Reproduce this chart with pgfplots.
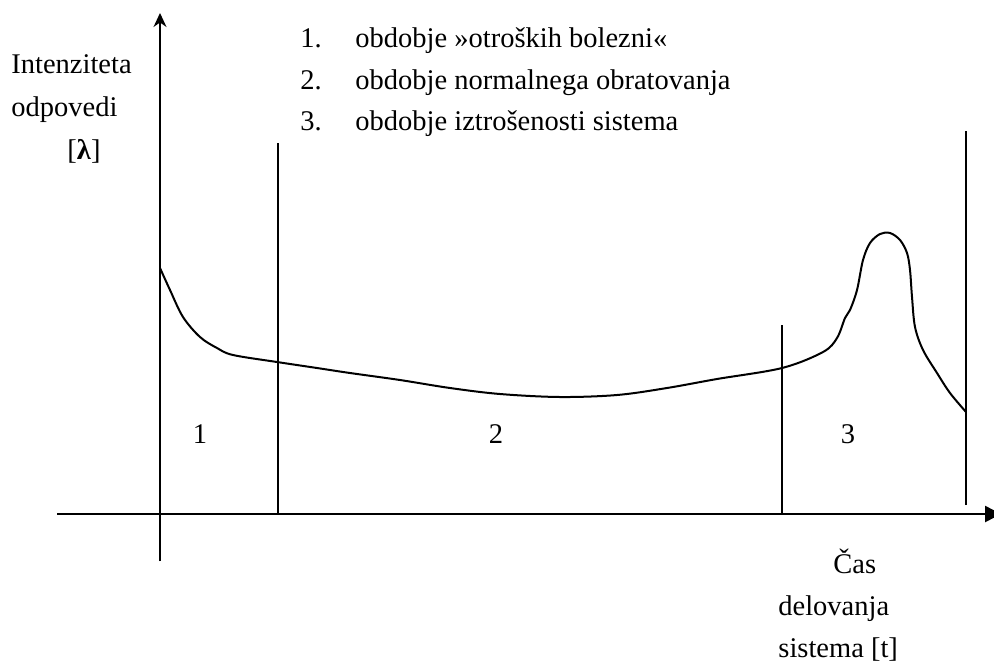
\documentclass[border=0pt]{standalone}
\usepackage{fontspec}
\setmainfont{Liberation Serif}
\usepackage{pgfplots}
\pgfplotsset{compat=1.18}
\usetikzlibrary{arrows.meta}

\tikzset{lbl/.style={font=\fontsize{14.25pt}{17pt}\selectfont\rmfamily, inner sep=0pt}}

\begin{document}
\begin{tikzpicture}
\useasboundingbox (0,0) rectangle (497pt,330.5pt);
\begin{axis}[
  x=0.5pt, y=0.5pt,
  xmin=0, xmax=994, ymin=0, ymax=661,
  hide axis, clip=false,
]
% time axis
\addplot[black, line width=1.3pt, -{Triangle[length=8pt,width=8pt]}]
  coordinates {(57,147) (1001,147)};
% failure-rate axis
\addplot[black, line width=0.75pt, -{Stealth[length=7pt,width=6.5pt]}]
  coordinates {(160,100) (160,648)};
% period boundaries
\addplot[black, line width=1.4pt] coordinates {(160,100) (160,452)};
\addplot[black, line width=1pt] coordinates {(278,147) (278,518)};
\addplot[black, line width=1pt] coordinates {(782,147) (782,336)};
\addplot[black, line width=1.1pt] coordinates {(966,156) (966,530)};
% bathtub curve
\addplot[black, line width=1pt, smooth, tension=0.55] coordinates {
  (160,393) (170,371) (183,344) (200,324) (217,313) (233,306)
  (277,299) (317,293) (350,288) (400,281) (450,273) (500,267)
  (560,264) (617,266) (667,273) (717,282) (782,293) (823,309)
  (837,323) (845,343) (850,351) (857,371) (863,401) (870,418)
  (880,427) (890,428) (900,421) (907,408) (910,391) (912,364)
  (915,334) (923,311) (937,288) (950,268) (966,249)
};

% axis titles
\node[lbl, anchor=base west] at (axis cs:11,588) {Intenziteta};
\node[lbl, anchor=base west] at (axis cs:11,545) {odpovedi};
\node[lbl, anchor=base] at (axis cs:84,502) {[\textbf{λ}]};
\node[lbl, anchor=base west] at (axis cs:833,88) {Čas};
\node[lbl, anchor=base west] at (axis cs:778,46) {delovanja};
\node[lbl, anchor=base west] at (axis cs:778,4) {sistema [t]};

% period list
\node[lbl, anchor=base west] at (axis cs:300,614) {1.};
\node[lbl, anchor=base west] at (axis cs:355,614) {obdobje »otroških bolezni«};
\node[lbl, anchor=base west] at (axis cs:300,572) {2.};
\node[lbl, anchor=base west] at (axis cs:355,572) {obdobje normalnega obratovanja};
\node[lbl, anchor=base west] at (axis cs:300,531) {3.};
\node[lbl, anchor=base west] at (axis cs:355,531) {obdobje iztrošenosti sistema};

% period numbers
\node[lbl, anchor=base] at (axis cs:200,218) {1};
\node[lbl, anchor=base] at (axis cs:496,218) {2};
\node[lbl, anchor=base] at (axis cs:848,218) {3};
\end{axis}
\end{tikzpicture}
\end{document}
